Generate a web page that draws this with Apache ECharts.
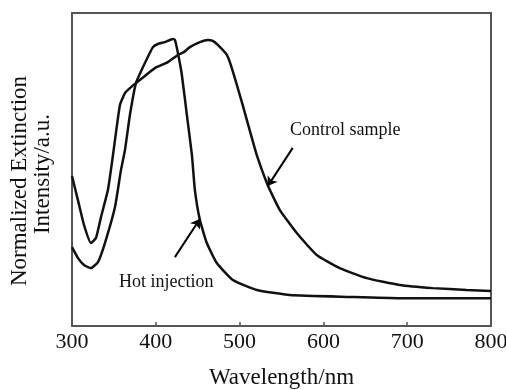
<!DOCTYPE html>
<html><head><meta charset="utf-8">
<script src="https://cdn.jsdelivr.net/npm/echarts@6/dist/echarts.min.js"></script>
<style>html,body{margin:0;padding:0;background:#fff}#c{width:506px;height:390px}</style>
</head><body><div id="c"></div>
<script>
var xTicks = [300, 400, 500, 600, 700, 800];
var controlWl = [300,307,314.3,322.6,328.6,334.6,342.9,348.9,357.2,363.2,369.1,376.3,387,398.9,414.4,426.4,433.5,440.7,452.6,462.1,468,474,484.8,490.7,502.6,514.6,520.5,533.6,547.9,568.2,592,619.5,651.6,691,730.3,770.9,800];
var controlVal = [0.479,0.403,0.323,0.265,0.281,0.348,0.435,0.546,0.706,0.744,0.760,0.776,0.799,0.824,0.843,0.866,0.875,0.891,0.907,0.914,0.911,0.898,0.866,0.824,0.716,0.601,0.546,0.450,0.371,0.297,0.227,0.185,0.153,0.131,0.121,0.115,0.112];
var hotWl = [300,307.2,314.3,322.6,331,339.3,351.3,358.4,363.2,369.1,376.3,387,396.6,402.5,410.8,420.4,422.8,426.4,431.1,437.1,443.1,446.6,452.6,460.9,472.8,491.9,520.5,559.8,631.4,691,800];
var hotVal = [0.252,0.217,0.195,0.185,0.204,0.265,0.380,0.498,0.562,0.674,0.776,0.840,0.891,0.901,0.907,0.917,0.914,0.872,0.802,0.674,0.546,0.435,0.339,0.265,0.201,0.147,0.115,0.099,0.093,0.089,0.089];
var controlArrow = [[563.4, 0.569], [533.6, 0.447]];
var hotArrow = [[422.8, 0.220], [452.6, 0.342]];

function zip(a, b) { return a.map(function (v, i) { return [v, b[i]]; }); }
var serif = 'Liberation Serif';
var chart = echarts.init(document.getElementById('c'));
chart.setOption({
  animation: false,
  grid: { left: 72, right: 15, top: 13, bottom: 64, containLabel: false, outerBoundsMode: 'none' },
  xAxis: [{
    type: 'value', min: 300, max: 800, interval: 100,
    name: 'Wavelength/nm', nameLocation: 'middle', nameGap: 40,
    nameTextStyle: { fontFamily: serif, fontSize: 23, color: '#111' },
    axisLine: { lineStyle: { color: '#555', width: 2 } },
    axisTick: { inside: true, length: 4, lineStyle: { color: '#555', width: 1.5 } },
    axisLabel: { fontFamily: serif, fontSize: 22, color: '#111', margin: 5,
      formatter: function (v) { return xTicks.indexOf(v) >= 0 ? String(v) : ''; } },
    splitLine: { show: false }
  }, {
    type: 'value', min: 300, max: 800, position: 'top',
    axisLine: { show: true, onZero: false, lineStyle: { color: '#555', width: 2 } },
    axisTick: { show: false }, axisLabel: { show: false }, splitLine: { show: false }
  }],
  yAxis: [{
    type: 'value', min: 0, max: 1,
    axisLine: { show: true, lineStyle: { color: '#555', width: 2 } },
    axisTick: { show: false }, axisLabel: { show: false }, splitLine: { show: false }
  }, {
    type: 'value', min: 0, max: 1, position: 'right',
    axisLine: { show: true, onZero: false, lineStyle: { color: '#555', width: 2 } },
    axisTick: { show: false }, axisLabel: { show: false }, splitLine: { show: false }
  }],
  series: [{
    name: 'Control sample', type: 'line', data: zip(controlWl, controlVal),
    showSymbol: false, smooth: 0.15,
    lineStyle: { color: '#111', width: 2.5 },
    markLine: {
      silent: true, symbol: ['none', 'arrow'], symbolSize: 9,
      lineStyle: { color: '#000', width: 2, type: 'solid' }, label: { show: false },
      data: [[{ coord: controlArrow[0] }, { coord: controlArrow[1] }]]
    }
  }, {
    name: 'Hot injection', type: 'line', data: zip(hotWl, hotVal),
    showSymbol: false, smooth: 0.15,
    lineStyle: { color: '#111', width: 2.5 },
    markLine: {
      silent: true, symbol: ['none', 'arrow'], symbolSize: 9,
      lineStyle: { color: '#000', width: 2, type: 'solid' }, label: { show: false },
      data: [[{ coord: hotArrow[0] }, { coord: hotArrow[1] }]]
    }
  }],
  graphic: [
    { type: 'text', x: 20, y: 181, rotation: Math.PI / 2,
      style: { text: 'Normalized Extinction', font: '23px "Liberation Serif"', fill: '#111', align: 'center', verticalAlign: 'middle' } },
    { type: 'text', x: 43, y: 174, rotation: Math.PI / 2,
      style: { text: 'Intensity/a.u.', font: '23px "Liberation Serif"', fill: '#111', align: 'center', verticalAlign: 'middle' } },
    { type: 'text', left: 290, top: 121, style: { text: 'Control sample', font: '18px "Liberation Serif"', fill: '#111' } },
    { type: 'text', left: 119, top: 273, style: { text: 'Hot injection', font: '18px "Liberation Serif"', fill: '#111' } }
  ]
});
</script></body></html>
